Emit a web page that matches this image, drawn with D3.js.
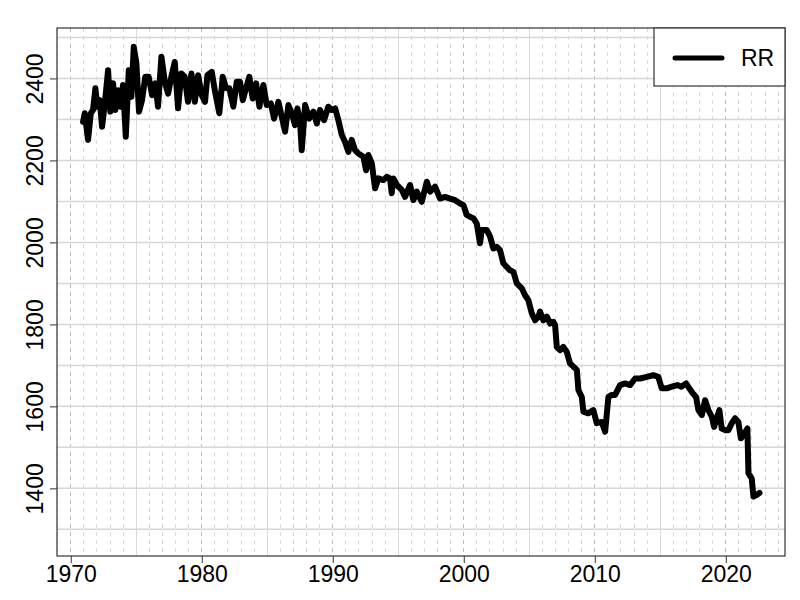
<!DOCTYPE html>
<html><head><meta charset="utf-8">
<script src="https://cdn.jsdelivr.net/npm/d3@7"></script>
<style>body{margin:0;background:#fff}svg{display:block}</style>
</head><body>
<script>
const years = [
1970.94,1971.07,1971.32,1971.53,1971.70,1971.88,1972.03,1972.21,1972.39,1972.60,1972.85,1973.02,1973.23,1973.40,1973.61,1973.82,1973.99,1974.20,1974.43,1974.63,1974.81,1975.01,1975.21,1975.44,1975.69,1975.95,1976.21,1976.46,1976.66,1976.92,1977.18,1977.43,1977.68,1977.94,1978.19,1978.44,1978.70,1978.95,1979.21,1979.47,1979.72,
1980.00,1980.25,1980.43,1980.76,1981.02,1981.34,1981.60,1981.86,1982.11,1982.41,1982.67,1982.92,1983.13,1983.38,1983.63,1983.89,1984.15,1984.40,1984.70,1984.96,1985.27,1985.52,1985.85,1986.11,1986.36,1986.61,1986.87,1987.12,1987.30,1987.50,1987.63,1987.89,1988.21,1988.52,1988.78,1989.03,1989.34,1989.66,1989.92,1990.18,1990.43,1990.69,1990.94,
1991.19,1991.45,1991.70,1991.95,1992.34,1992.54,1992.72,1992.98,1993.23,1993.48,1993.86,1994.12,1994.37,1994.50,1994.63,1994.89,1995.27,1995.52,1995.90,1996.15,1996.41,1996.79,1997.18,1997.43,1997.81,1998.19,1998.57,1998.95,1999.34,1999.72,1999.97,2000.23,2000.50,2000.73,2000.99,
2001.24,2001.37,2001.76,2002.01,2002.26,2002.52,2002.77,2003.02,2003.28,2003.53,2003.79,2004.05,2004.43,2004.68,2004.93,2005.19,2005.44,2005.70,2005.82,2006.08,2006.34,2006.59,2006.84,2006.97,2007.10,2007.35,2007.60,2007.86,2008.11,2008.37,2008.63,2008.75,2009.01,2009.13,2009.51,2009.89,2010.15,2010.53,2010.79,
2011.04,2011.30,2011.55,2011.93,2012.31,2012.69,2013.08,2013.46,2013.97,2014.47,2014.85,2015.11,2015.50,2015.88,2016.30,2016.60,2016.97,2017.22,2017.48,2017.73,2017.91,2018.17,2018.42,2018.67,2018.93,2019.11,2019.31,2019.51,2019.69,2019.95,2020.20,2020.46,2020.71,2020.96,2021.15,2021.34,2021.65,2021.73,2021.98,2022.11,2022.37,2022.57
];
const rr = [
2294,2315,2250,2315,2323,2376,2331,2347,2282,2339,2420,2319,2388,2323,2371,2331,2384,2258,2420,2355,2477,2437,2319,2347,2404,2404,2359,2388,2331,2453,2392,2363,2404,2440,2327,2412,2404,2343,2412,2343,2408,
2359,2343,2408,2416,2367,2315,2404,2376,2376,2331,2392,2392,2347,2376,2404,2351,2388,2331,2384,2335,2339,2302,2343,2306,2270,2335,2315,2286,2327,2294,2225,2335,2302,2319,2290,2323,2298,2331,2323,2327,2298,2262,2245,
2221,2250,2225,2217,2209,2176,2213,2193,2132,2156,2152,2160,2156,2120,2156,2140,2128,2111,2140,2103,2124,2099,2148,2124,2136,2107,2111,2107,2103,2095,2091,2067,2062,2059,2046,
1998,2030,2030,2014,1985,1989,1981,1949,1940,1932,1928,1900,1888,1871,1859,1827,1810,1819,1831,1810,1819,1802,1806,1798,1745,1737,1745,1733,1705,1697,1689,1640,1623,1587,1583,1591,1559,1562,1538,
1623,1628,1628,1652,1656,1652,1668,1668,1672,1676,1672,1644,1644,1648,1652,1648,1656,1644,1632,1623,1591,1579,1615,1591,1575,1550,1571,1591,1546,1542,1542,1559,1571,1562,1522,1530,1546,1437,1424,1380,1384,1389
];
const xTicks = [1970,1980,1990,2000,2010,2020];
const yTicks = [1400,1600,1800,2000,2200,2400];
const seriesName = "RR";

const W = 800, H = 600;
const L = 57, R = 785, T = 28, B = 556;
const svg = d3.select("body").append("svg").attr("width", W).attr("height", H);
const x = d3.scaleLinear().domain([1968.95, 2024.52]).range([L, R]);
const y = d3.scaleLinear().domain([1235, 2523]).range([B, T]);

const font = "'Liberation Sans', Arial, sans-serif";
const g = svg.append("g");

const yrs = d3.range(1969, 2025);
g.selectAll("line.vy").data(yrs).enter().append("line")
  .attr("x1", d => x(d)).attr("x2", d => x(d)).attr("y1", T).attr("y2", B)
  .attr("stroke", d => d % 10 === 0 ? "#bdbdbd" : "#dadada")
  .attr("stroke-width", 1)
  .attr("stroke-dasharray", d => (d % 5 === 0 && d % 10 !== 0) ? null : "4,4")
  .attr("shape-rendering", "crispEdges");
const hg = d3.range(1300, 2501, 100);
g.selectAll("line.hg").data(hg).enter().append("line")
  .attr("x1", L).attr("x2", R).attr("y1", d => y(d)).attr("y2", d => y(d))
  .attr("stroke", "#d6d6d6").attr("stroke-width", 1.5);

const line = d3.line().x((d,i) => x(years[i])).y((d) => y(d));
svg.append("path").datum(rr).attr("d", line)
  .attr("fill", "none").attr("stroke", "#000").attr("stroke-width", 6)
  .attr("stroke-linejoin", "round").attr("stroke-linecap", "round");

svg.append("rect").attr("x", L).attr("y", T).attr("width", R - L).attr("height", B - T)
  .attr("fill", "none").attr("stroke", "#333").attr("stroke-width", 1.2);

// x axis
const xa = svg.append("g").attr("transform", `translate(0,${B})`)
  .call(d3.axisBottom(x).tickValues(xTicks).tickFormat(d3.format("d")).tickSize(7));
xa.select(".domain").remove();
xa.selectAll("line").attr("stroke", "#333");
xa.selectAll("text").remove();
xa.selectAll(".tick").append("text")
  .attr("x", 0).attr("y", 26).attr("text-anchor", "middle")
  .attr("font-family", font).attr("font-size", 23).attr("fill", "#000")
  .text(d => d3.format("d")(d));

// y axis
const ya = svg.append("g").attr("transform", `translate(${L},0)`)
  .call(d3.axisLeft(y).tickValues(yTicks).tickFormat(d3.format("d")).tickSize(7));
ya.select(".domain").remove();
ya.selectAll("line").attr("stroke", "#333");
ya.selectAll("text").remove();
ya.selectAll(".tick").append("text")
  .attr("text-anchor", "middle").attr("transform", "translate(-14,0) rotate(-90)")
  .attr("font-family", font).attr("font-size", 23).attr("fill", "#000")
  .text(d => d3.format("d")(d));

// legend
const lg = svg.append("g");
lg.append("rect").attr("x", 654).attr("y", T).attr("width", R - 654).attr("height", 58)
  .attr("fill", "#fff").attr("stroke", "#333").attr("stroke-width", 1.2);
lg.append("line").attr("x1", 675).attr("x2", 722).attr("y1", 58).attr("y2", 58)
  .attr("stroke", "#000").attr("stroke-width", 5).attr("stroke-linecap", "round");
lg.append("text").attr("x", 741).attr("y", 66).text(seriesName)
  .attr("font-family", font).attr("font-size", 23).attr("fill", "#000");
</script>
</body></html>
